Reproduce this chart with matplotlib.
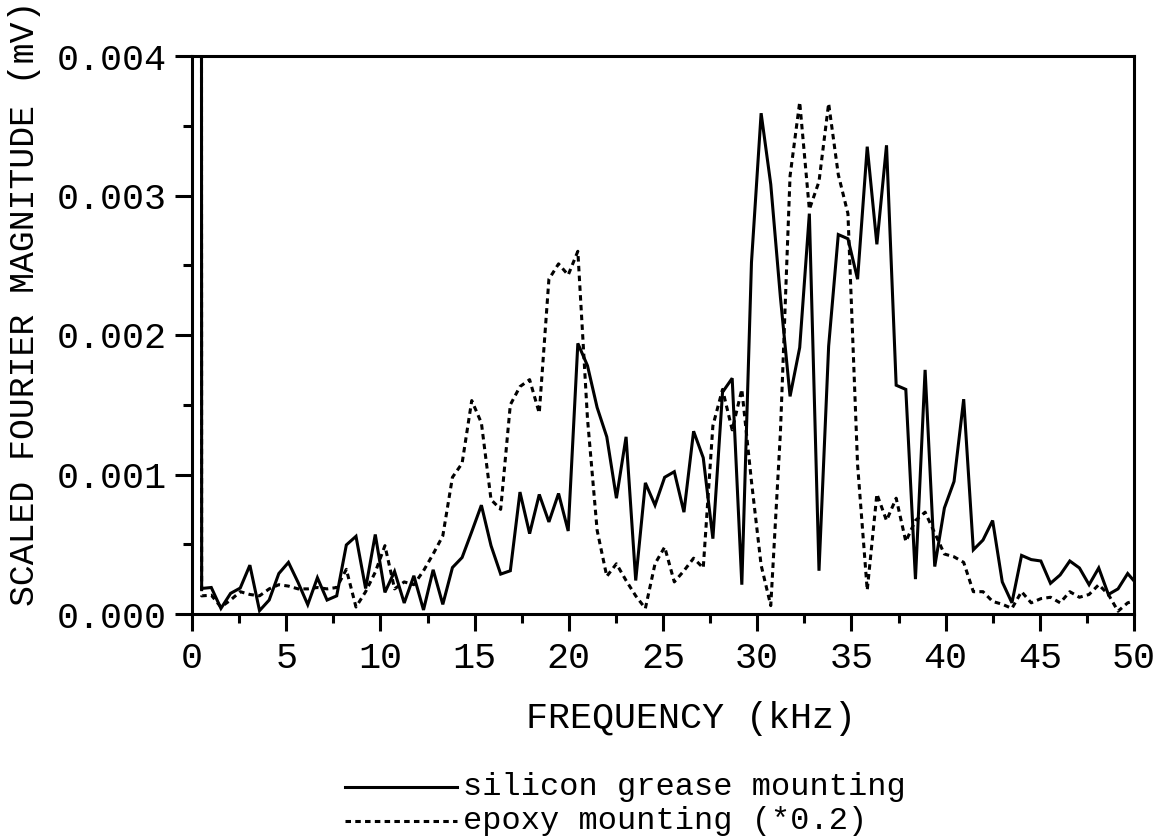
import numpy as np
import matplotlib
matplotlib.use("Agg")
import matplotlib.pyplot as plt
from matplotlib.lines import Line2D
from matplotlib.ticker import MultipleLocator, FormatStrFormatter

# FFT bin spacing (kHz)
df = 0.512

# Silicon grease mounting spectrum (bin 0 is the DC term, far off scale)
silicon = [
    0.25, 0.000183, 0.00019, 0.00004, 0.000148, 0.000186, 0.00035, 0.000024,
    0.0001, 0.00029, 0.00037, 0.000226, 0.000067, 0.00026, 0.0001, 0.00013,
    0.000495, 0.000557, 0.000183, 0.00057, 0.000155, 0.000305, 0.000079,
    0.000274, 0.000029, 0.000317, 0.000069, 0.000333, 0.000405, 0.00059,
    0.00078, 0.00049, 0.000286, 0.00031, 0.000874, 0.000576, 0.000857,
    0.00066, 0.000864, 0.000595, 0.00194, 0.00178, 0.00148, 0.00127, 0.00083,
    0.00127, 0.00024, 0.00094, 0.00078, 0.00098, 0.00102, 0.00073, 0.00131,
    0.00112, 0.00054, 0.00159, 0.00169, 0.00021, 0.00252, 0.00359, 0.00308,
    0.00227, 0.00156, 0.00191, 0.00287, 0.00031, 0.00192, 0.00272, 0.00269,
    0.0024, 0.00335, 0.00265, 0.00336, 0.00164, 0.00161, 0.00025, 0.00175,
    0.00034, 0.00076, 0.00095, 0.00154, 0.00046, 0.00053, 0.00067, 0.00023,
    0.00008, 0.00042, 0.00039, 0.00038, 0.00022, 0.00028, 0.00038, 0.00033,
    0.00021, 0.00033, 0.00014, 0.00018, 0.00029, 0.00021,
]

# Epoxy mounting spectrum, already scaled by 0.2
epoxy = [
    0.25, 0.00013, 0.000135, 0.00005, 0.0001, 0.00016, 0.00014, 0.00013,
    0.00018, 0.00021, 0.0002, 0.00018, 0.00018, 0.00019, 0.00018, 0.00019,
    0.00032, 0.00005, 0.00016, 0.0003, 0.00049, 0.00018, 0.00023, 0.00021,
    0.00031, 0.00043, 0.00056, 0.00098, 0.00108, 0.00153, 0.00137, 0.00082,
    0.00075, 0.0015, 0.00163, 0.00168, 0.00144, 0.0024, 0.00251, 0.00243,
    0.0026, 0.0014, 0.0006, 0.00027, 0.00036, 0.00024, 0.00013, 0.00004,
    0.00036, 0.00048, 0.00023, 0.00031, 0.0004, 0.00033, 0.00135, 0.00161,
    0.00132, 0.00161, 0.00095, 0.00035, 0.00006, 0.0013, 0.00314, 0.00367,
    0.0029, 0.0031, 0.00366, 0.00315, 0.00287, 0.00107, 0.00017, 0.00086,
    0.00067, 0.00083, 0.00052, 0.00067, 0.00073, 0.00058, 0.00043, 0.00041,
    0.00037, 0.00016, 0.00016, 0.00009, 0.00007, 0.00004, 0.00016, 0.00008,
    0.00011, 0.00012, 0.00008, 0.00016, 0.00012, 0.00014, 0.00021, 0.00014,
    0.00002, 0.00008, 0.0001,
]

freq = np.arange(len(silicon)) * df

x_ticks = [0, 5, 10, 15, 20, 25, 30, 35, 40, 45, 50]
y_ticks = [0.000, 0.001, 0.002, 0.003, 0.004]

series_labels = ["silicon grease mounting", "epoxy mounting (*0.2)"]
x_label = "FREQUENCY (kHz)"
y_label = "SCALED FOURIER MAGNITUDE (mV)"

FONT = ["Liberation Mono", "DejaVu Sans Mono"]
plt.rcParams["font.family"] = FONT
plt.rcParams["lines.scale_dashes"] = True

W, H = 1158, 836
fig = plt.figure(figsize=(W / 100, H / 100), dpi=100)
ax = fig.add_axes([192 / W, 1 - 614 / H, 942 / W, 558 / H])

lw = 2.2
dot_style = (0, (1.8, 1.4))
ax.plot(freq, silicon, color="black", lw=lw, solid_joinstyle="miter")
ax.plot(freq, epoxy, color="black", lw=lw, linestyle=dot_style)

ax.set_xlim(0, 50)
ax.set_ylim(0, 0.004)
ax.set_xticks(x_ticks)
ax.set_yticks(y_ticks)
ax.xaxis.set_minor_locator(MultipleLocator(2.5))
ax.yaxis.set_minor_locator(MultipleLocator(0.0005))
ax.yaxis.set_major_formatter(FormatStrFormatter("%.3f"))

for s in ax.spines.values():
    s.set_linewidth(2.2)
ax.tick_params(which="both", direction="out", width=2.2, top=False, right=False)
ax.tick_params(which="major", length=12.5, labelsize=26.5)
ax.tick_params(axis="x", which="major", pad=7)
ax.tick_params(axis="y", which="major", pad=6)
ax.tick_params(which="minor", length=6.5)

fig.text(691 / W, 1 - 718 / H, x_label, ha="center", va="center", fontsize=26.5)
fig.text(25 / W, 1 - 303 / H, y_label, ha="center", va="center",
         rotation=90, fontsize=25)

# Legend drawn in figure coordinates
leg_rows = [(787, "-"), (821, dot_style)]
for (yy, ls), lab in zip(leg_rows, series_labels):
    fig.add_artist(Line2D([345 / W, 457 / W], [1 - yy / H, 1 - yy / H],
                          transform=fig.transFigure, color="black", lw=lw,
                          linestyle=ls))
    fig.text(463 / W, 1 - yy / H, lab, ha="left", va="center", fontsize=23)

fig.savefig("out.png", dpi=100)
